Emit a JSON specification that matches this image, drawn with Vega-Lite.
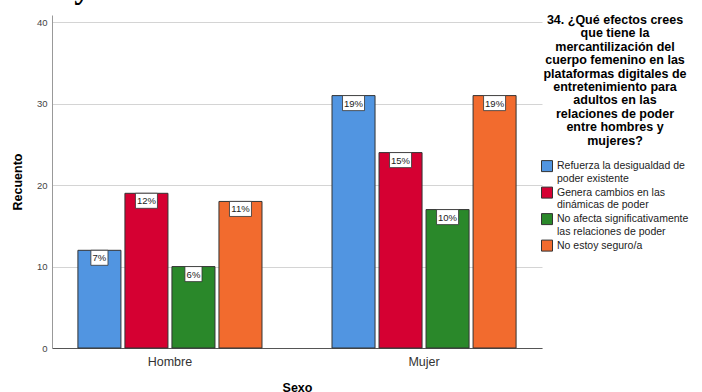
{
  "$schema": "https://vega.github.io/schema/vega-lite/v6.json",
  "autosize": "none",
  "width": 490,
  "height": 333,
  "padding": {"left": 52, "top": 15, "right": 160, "bottom": 44},
  "background": "white",
  "title": {"text": "Sexo y efectos de la mercantilización", "anchor": "start", "frame": "group", "dx": -52, "offset": -17, "baseline": "alphabetic", "font": "Liberation Serif", "fontSize": 33, "fontWeight": "bold", "color": "#000"},
  "config": {
    "view": {"stroke": null},
    "axis": {"labelFont": "Liberation Sans", "titleFont": "Liberation Sans"}
  },
  "data": {"values": [
    {"sexo": "Hombre", "efecto": "Refuerza la desigualdad de poder existente", "recuento": 12, "pct": "7%"},
    {"sexo": "Hombre", "efecto": "Genera cambios en las dinámicas de poder", "recuento": 19, "pct": "12%"},
    {"sexo": "Hombre", "efecto": "No afecta significativamente las relaciones de poder", "recuento": 10, "pct": "6%"},
    {"sexo": "Hombre", "efecto": "No estoy seguro/a", "recuento": 18, "pct": "11%"},
    {"sexo": "Mujer", "efecto": "Refuerza la desigualdad de poder existente", "recuento": 31, "pct": "19%"},
    {"sexo": "Mujer", "efecto": "Genera cambios en las dinámicas de poder", "recuento": 24, "pct": "15%"},
    {"sexo": "Mujer", "efecto": "No afecta significativamente las relaciones de poder", "recuento": 17, "pct": "10%"},
    {"sexo": "Mujer", "efecto": "No estoy seguro/a", "recuento": 31, "pct": "19%"}
  ]},
  "encoding": {
    "x": {"field": "sexo", "type": "nominal", "title": "Sexo",
      "scale": {"paddingInner": 0.2756, "paddingOuter": 0.102},
      "axis": {"labelAngle": 0, "ticks": false, "labelPadding": 7, "labelFontSize": 12.5, "labelColor": "#333", "domainColor": "#555", "domainWidth": 1, "titleFontSize": 12.5, "titleFontWeight": "bold", "titleColor": "#000", "titlePadding": 14, "titleBaseline": "top"}},
    "xOffset": {"field": "efecto", "type": "nominal",
      "sort": ["Refuerza la desigualdad de poder existente", "Genera cambios en las dinámicas de poder", "No afecta significativamente las relaciones de poder", "No estoy seguro/a"],
      "scale": {"paddingInner": 0.085, "paddingOuter": 0}},
    "y": {"field": "recuento", "type": "quantitative", "title": "Recuento",
      "scale": {"domain": [0, 40.9], "nice": false},
      "axis": {"values": [0, 10, 20, 30, 40], "ticks": false, "labelPadding": 5, "labelFontSize": 9.5, "labelColor": "#444", "domainColor": "#999", "gridColor": "#d4d4d4", "titleFontSize": 12.5, "titleFontWeight": "bold", "titleColor": "#000", "titlePadding": 12}}
  },
  "layer": [
    {
      "mark": {"type": "bar", "stroke": "#333", "strokeWidth": 1},
      "encoding": {
        "color": {"field": "efecto", "type": "nominal",
          "sort": ["Refuerza la desigualdad de poder existente", "Genera cambios en las dinámicas de poder", "No afecta significativamente las relaciones de poder", "No estoy seguro/a"],
          "scale": {"range": ["#5195e1", "#d50032", "#2a882a", "#f26b2e"]},
          "legend": {
            "title": ["34. ¿Qué efectos crees", "que tiene la", "mercantilización del", "cuerpo femenino en las", "plataformas digitales de", "entretenimiento para", "adultos en las", "relaciones de poder", "entre hombres y", "mujeres?"],
            "orient": "none", "legendX": 489, "legendY": -1,
            "titleFont": "Liberation Sans", "titleFontSize": 12.5, "titleFontWeight": "bold", "titleColor": "#000",
            "titleAlign": "center", "titleAnchor": "middle", "titleLineHeight": 13.4, "titlePadding": 13, "titleLimit": 400,
            "labelFont": "Liberation Sans", "labelFontSize": 10.5, "labelLineHeight": 11.5, "labelColor": "#222", "labelLimit": 400, "labelOffset": 4,
            "symbolType": "square", "symbolSize": 121, "symbolStrokeColor": "#333", "symbolStrokeWidth": 1, "rowPadding": 0.5,
            "labelExpr": "datum.label == 'Refuerza la desigualdad de poder existente' ? ['Refuerza la desigualdad de', 'poder existente'] : datum.label == 'Genera cambios en las dinámicas de poder' ? ['Genera cambios en las', 'dinámicas de poder'] : datum.label == 'No afecta significativamente las relaciones de poder' ? ['No afecta significativamente', 'las relaciones de poder'] : datum.label"
          }}
      }
    },
    {
      "mark": {"type": "point", "filled": true, "fill": "white", "stroke": "#333", "strokeWidth": 0.8, "opacity": 1, "size": 597, "yOffset": 7.5},
      "encoding": {
        "shape": {"condition": {"test": "length(datum.pct) < 3", "value": "M-0.7,-0.615H0.7V0.615H-0.7Z"}, "value": "M-0.9,-0.615H0.9V0.615H-0.9Z"}
      }
    },
    {
      "mark": {"type": "text", "font": "Liberation Sans", "fontSize": 9.5, "color": "#222", "baseline": "middle", "yOffset": 8},
      "encoding": {"text": {"field": "pct"}}
    }
  ]
}
